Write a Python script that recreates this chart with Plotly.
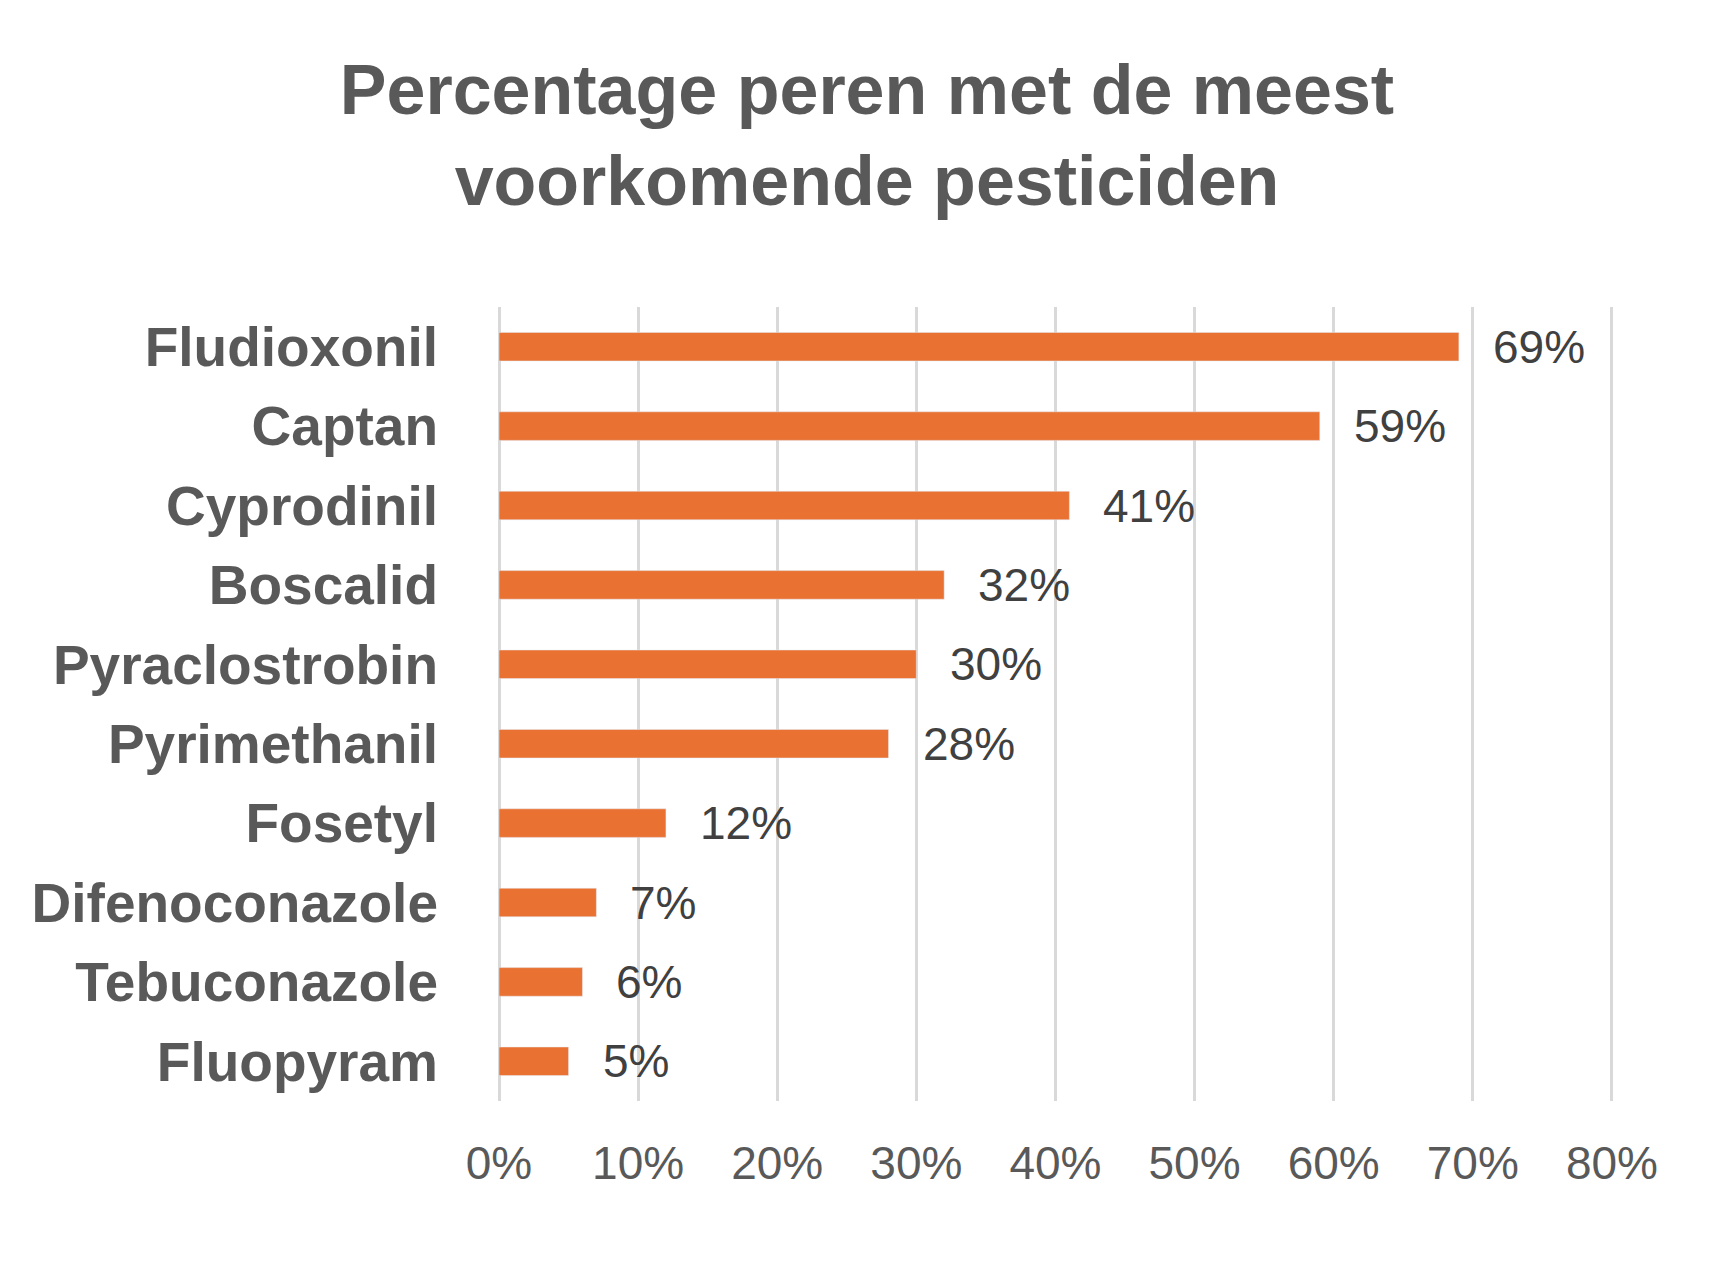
import plotly.graph_objects as go

# Data
pesticides = [
    "Fludioxonil",
    "Captan",
    "Cyprodinil",
    "Boscalid",
    "Pyraclostrobin",
    "Pyrimethanil",
    "Fosetyl",
    "Difenoconazole",
    "Tebuconazole",
    "Fluopyram",
]
share = [0.69, 0.59, 0.41, 0.32, 0.30, 0.28, 0.12, 0.07, 0.06, 0.05]
x_ticks = [0, 0.1, 0.2, 0.3, 0.4, 0.5, 0.6, 0.7, 0.8]
x_tick_labels = ["0%", "10%", "20%", "30%", "40%", "50%", "60%", "70%", "80%"]

FONT = "Liberation Sans, Arial, sans-serif"

trace = go.Bar(
    x=share,
    y=pesticides,
    orientation="h",
    marker_color="#E97132",
    hovertemplate="%{y}: %{x:.0%}<extra></extra>",
)

fig = go.Figure(data=[trace])

# value labels next to the bars
for name, val in zip(pesticides, share):
    fig.add_annotation(
        x=val,
        y=name,
        text=f"{val:.0%}",
        showarrow=False,
        xanchor="left",
        xshift=32,
        font=dict(family=FONT, size=46, color="#404040"),
    )

fig.update_layout(
    width=1718,
    height=1268,
    plot_bgcolor="white",
    paper_bgcolor="white",
    bargap=0.64,
    showlegend=False,
    margin=dict(l=491, r=112, t=299, b=175),
    title=dict(
        text="<b>Percentage peren met de meest<br>voorkomende pesticiden</b>",
        x=0.5,
        xanchor="center",
        y=1 - 106 / 1268,
        yanchor="middle",
        yref="container",
        font=dict(family=FONT, size=70, color="#595959"),
    ),
)

# modify x-axis (tiny extra so the 80% gridline is drawn)
fig.update_xaxes(
    range=[0, 0.8015],
    tickvals=x_ticks,
    ticktext=x_tick_labels,
    showgrid=True,
    gridcolor="#D9D9D9",
    gridwidth=3,
    zeroline=True,
    zerolinecolor="#D9D9D9",
    zerolinewidth=3,
    showline=False,
    ticks="",
    ticklabelstandoff=31,
    tickfont=dict(family=FONT, size=46, color="#595959"),
)
# modify y-axis
fig.update_yaxes(
    autorange="reversed",
    showgrid=False,
    showline=False,
    ticks="",
    ticklabelstandoff=60,
    tickfont=dict(family=FONT, size=55, color="#595959", weight="bold"),
)

fig.write_html("out.html")
